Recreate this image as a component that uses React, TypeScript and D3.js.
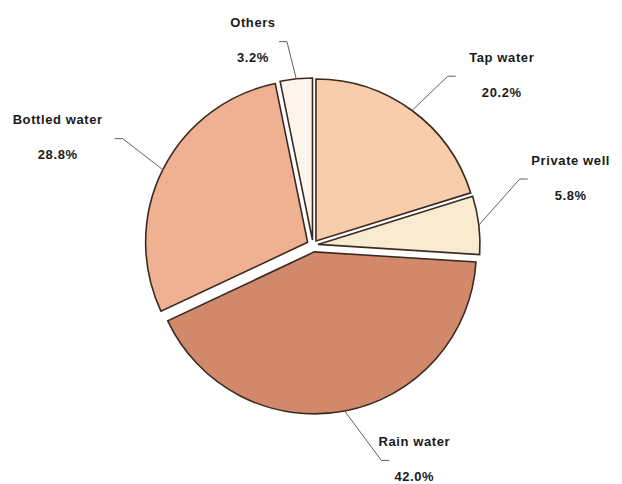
import React from "react";
import * as d3 from "d3";

// source of drinking water, share in %
const categories = ["Tap water", "Private well", "Rain water", "Bottled water", "Others"];
const shares = [20.2, 5.8, 42.0, 28.8, 3.2];
const colors = ["#f7cdab", "#f9ebcf", "#d2886b", "#efb192", "#fdf5ec"];

// how far each slice is pulled out of the pie
const explode = [5, 5, 7, 6, 5];

// leader line elbow (polar from pie centre), tail direction, text offset
const labelAngle = [38.6, 72.3, 162.4, 299.2, -7.3];
const labelRadius = [216, 217, 226, 218, 205];
const tailDir = [1, 1, 1, -1, -1];
const textDx = [46, 43, 25, -57, -26];

const W = 622;
const H = 484;
const cx = 313;
const cy = 245;
const R = 162;

type Row = { name: string; value: number; color: string; i: number };

export default function App() {
  const rows: Row[] = categories.map((name, i) => ({
    name,
    value: shares[i],
    color: colors[i],
    i,
  }));

  const pie = d3
    .pie<Row>()
    .sort(null)
    .value((d) => d.value)
    .startAngle(0)
    .endAngle(2 * Math.PI);

  const arc = d3.arc<d3.PieArcDatum<Row>>().innerRadius(0).outerRadius(R);

  const arcs = pie(rows);
  const polar = (a: number, r: number): [number, number] => [Math.sin(a) * r, -Math.cos(a) * r];

  return (
    <svg
      width={W}
      height={H}
      style={{ position: "absolute", left: 0, top: 0, background: "#fff" }}
      fontFamily="'Liberation Sans', Arial, sans-serif"
    >
      <g transform={`translate(${cx},${cy})`}>
        {arcs.map((a) => {
          const mid = (a.startAngle + a.endAngle) / 2;
          const [ox, oy] = polar(mid, explode[a.data.i]);
          return (
            <path
              key={a.data.name}
              d={arc(a) || ""}
              transform={`translate(${ox},${oy})`}
              fill={a.data.color}
              stroke="#3b2a22"
              strokeWidth={1.6}
              strokeLinejoin="miter"
            />
          );
        })}
        {arcs.map((a) => {
          const i = a.data.i;
          const mid = (a.startAngle + a.endAngle) / 2;
          const [ox, oy] = polar(mid, explode[i]);
          const [sx, sy] = polar(mid, R);
          const [ex, ey] = polar((labelAngle[i] * Math.PI) / 180, labelRadius[i]);
          const tx = ex + tailDir[i] * 8;
          const line = d3.line()([
            [sx + ox, sy + oy],
            [ex, ey],
            [tx, ey],
          ]);
          const lx = tx + textDx[i];
          return (
            <g key={"lab" + i}>
              <path d={line || ""} fill="none" stroke="#6b5e55" strokeWidth={1} />
              <text
                x={lx}
                y={ey - 19}
                textAnchor="middle"
                dominantBaseline="central"
                fontSize={13}
                fontWeight="bold"
                letterSpacing={0.6}
                fill="#1a1a1a"
              >
                {a.data.name}
              </text>
              <text
                x={lx}
                y={ey + 16}
                textAnchor="middle"
                dominantBaseline="central"
                fontSize={13}
                fontWeight="bold"
                letterSpacing={0.6}
                fill="#1a1a1a"
              >
                {d3.format(".1f")(a.data.value) + "%"}
              </text>
            </g>
          );
        })}
      </g>
    </svg>
  );
}
